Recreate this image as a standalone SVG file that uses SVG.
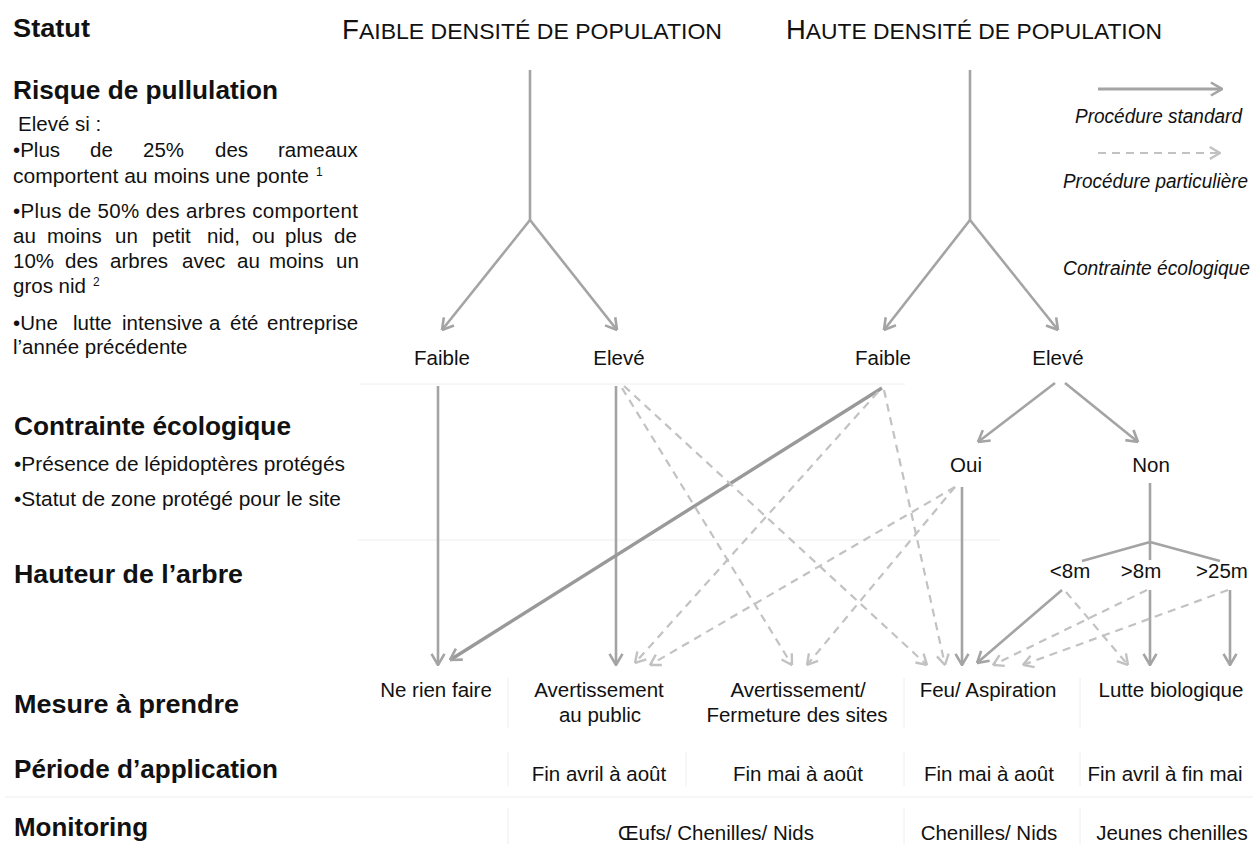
<svg xmlns="http://www.w3.org/2000/svg" width="1253" height="844" viewBox="0 0 1253 844">
<style>
  text { font-family: "Liberation Sans", Arial, sans-serif; fill: #111; }
  .h { font-weight: bold; font-size: 26px; }
  .b { font-size: 20.5px; }
  .c { font-size: 20.5px; text-anchor: middle; }
  .cap { font-size: 22.5px; }
  .it { font-style: italic; font-size: 19.5px; }
  .sup { font-size: 12px; }
  .sol { fill: none; stroke: #a4a4a4; stroke-width: 2.6; marker-end: url(#arr); }
  .solt { fill: none; stroke: #a4a4a4; stroke-width: 2.6; }
  .thk { fill: none; stroke: #999999; stroke-width: 3.4; marker-end: url(#arr); }
  .dsh { fill: none; stroke: #c2c2c2; stroke-width: 2.2; stroke-dasharray: 8 6; marker-end: url(#arrd); }
  .grid { stroke: #eeeeee; stroke-width: 1; fill: none; }
</style>
<defs>
  <marker id="arr" viewBox="0 0 10 12" refX="9.5" refY="6" markerWidth="13" markerHeight="16" markerUnits="userSpaceOnUse" orient="auto">
    <path d="M1,1 L9.5,6 L1,11" fill="none" stroke="#a4a4a4" stroke-width="2"/>
  </marker>
  <marker id="arrd" viewBox="0 0 10 12" refX="9.5" refY="6" markerWidth="12" markerHeight="15" markerUnits="userSpaceOnUse" orient="auto">
    <path d="M1,1 L9.5,6 L1,11" fill="none" stroke="#c2c2c2" stroke-width="2"/>
  </marker>
</defs>
<rect width="1253" height="844" fill="#ffffff"/>

<g id="grid">
  <path class="grid" d="M360,384 H905 M358,540 H1000 M5,797 H1253"/>
  <path class="grid" d="M508,678 V728 M508,752 V786 M508,808 V844 M904,678 V728 M904,752 V786 M904,808 V844 M1080,678 V728 M1080,752 V786 M1080,808 V844 M686,752 V786"/>
</g>

<g id="row-labels">
  <text class="h" x="13" y="37" textLength="77" lengthAdjust="spacingAndGlyphs">Statut</text>
  <text class="h" x="13" y="99" textLength="265" lengthAdjust="spacingAndGlyphs">Risque de pullulation</text>
  <text class="b" x="18" y="131">Elevé si :</text>
  <text class="b" y="157"><tspan x="13">•Plus</tspan><tspan x="90">de</tspan><tspan x="143">25%</tspan><tspan x="215">des</tspan><tspan x="278">rameaux</tspan></text>
  <text class="b" x="13" y="183" textLength="296" lengthAdjust="spacingAndGlyphs">comportent au moins une ponte</text>
  <text class="sup" x="316" y="176">1</text>
  <text class="b" x="13" y="218" textLength="345" lengthAdjust="spacing">•Plus de 50% des arbres comportent</text>
  <text class="b" y="243"><tspan x="13">au</tspan><tspan x="47">moins</tspan><tspan x="115">un</tspan><tspan x="152">petit</tspan><tspan x="207">nid,</tspan><tspan x="252">ou</tspan><tspan x="285">plus</tspan><tspan x="334">de</tspan></text>
  <text class="b" y="268"><tspan x="13">10%</tspan><tspan x="65">des</tspan><tspan x="110">arbres</tspan><tspan x="182">avec</tspan><tspan x="237">au</tspan><tspan x="269">moins</tspan><tspan x="336">un</tspan></text>
  <text class="b" x="13" y="293">gros nid</text>
  <text class="sup" x="93" y="286">2</text>
  <text class="b" y="330"><tspan x="13">•Une</tspan><tspan x="73">lutte</tspan><tspan x="122">intensive</tspan><tspan x="209">a</tspan><tspan x="230">été</tspan><tspan x="267">entreprise</tspan></text>
  <text class="b" x="13" y="354">l’année précédente</text>

  <text class="h" x="14" y="435" textLength="277" lengthAdjust="spacingAndGlyphs">Contrainte écologique</text>
  <text class="b" x="14" y="471" textLength="331" lengthAdjust="spacingAndGlyphs">•Présence de lépidoptères protégés</text>
  <text class="b" x="14" y="506" textLength="327" lengthAdjust="spacingAndGlyphs">•Statut de zone protégé pour le site</text>
  <text class="h" x="14" y="583" textLength="229" lengthAdjust="spacingAndGlyphs">Hauteur de l’arbre</text>
  <text class="h" x="14" y="713" textLength="225" lengthAdjust="spacingAndGlyphs">Mesure à prendre</text>
  <text class="h" x="14" y="778" textLength="264" lengthAdjust="spacingAndGlyphs">Période d’application</text>
  <text class="h" x="14" y="836" textLength="134" lengthAdjust="spacingAndGlyphs">Monitoring</text>
</g>

<g id="header-faible">
  <text x="342" y="39" textLength="380" lengthAdjust="spacingAndGlyphs"><tspan style="font-size:27px">F</tspan><tspan class="cap">AIBLE DENSITÉ DE POPULATION</tspan></text>
</g>
<g id="header-haute">
  <text x="786" y="39" textLength="376" lengthAdjust="spacingAndGlyphs"><tspan style="font-size:27px">H</tspan><tspan class="cap">AUTE DENSITÉ DE POPULATION</tspan></text>
</g>

<g id="legend">
  <path class="sol" d="M1098,89 H1222" style="stroke-width:3.2"/>
  <text class="it" x="1075" y="123" textLength="167" lengthAdjust="spacingAndGlyphs">Procédure standard</text>
  <path class="dsh" d="M1098,153 H1220"/>
  <text class="it" x="1063" y="188" textLength="185" lengthAdjust="spacingAndGlyphs">Procédure particulière</text>
  <text class="it" x="1063" y="275" textLength="187" lengthAdjust="spacingAndGlyphs">Contrainte écologique</text>
</g>

<g id="node-faible-1"><text class="c" x="442" y="365">Faible</text></g>
<g id="node-eleve-1"><text class="c" x="619" y="365">Elevé</text></g>
<g id="node-faible-2"><text class="c" x="883" y="365">Faible</text></g>
<g id="node-eleve-2"><text class="c" x="1058" y="365">Elevé</text></g>
<g id="node-oui"><text class="c" x="966" y="472">Oui</text></g>
<g id="node-non"><text class="c" x="1151" y="472">Non</text></g>
<g id="node-lt8"><text class="c" x="1070" y="578">&lt;8m</text></g>
<g id="node-gt8"><text class="c" x="1141" y="578">&gt;8m</text></g>
<g id="node-gt25"><text class="c" x="1222" y="578">&gt;25m</text></g>

<g id="node-ne-rien-faire"><text class="c" x="436" y="697">Ne rien faire</text></g>
<g id="node-avert-public">
  <text class="c" x="599" y="697">Avertissement</text>
  <text class="c" x="600" y="722">au public</text>
</g>
<g id="node-avert-fermeture">
  <text class="c" x="798" y="697">Avertissement/</text>
  <text class="c" x="797" y="722">Fermeture des sites</text>
</g>
<g id="node-feu"><text class="c" x="988" y="697">Feu/ Aspiration</text></g>
<g id="node-lutte"><text class="c" x="1171" y="697">Lutte biologique</text></g>

<g id="periods">
  <text class="c" x="599" y="781">Fin avril à août</text>
  <text class="c" x="798" y="781">Fin mai à août</text>
  <text class="c" x="989" y="781">Fin mai à août</text>
  <text class="c" x="1165" y="781">Fin avril à fin mai</text>
</g>
<g id="monitoring">
  <text class="c" x="716" y="840">Œufs/ Chenilles/ Nids</text>
  <text class="c" x="989" y="840">Chenilles/ Nids</text>
  <text class="c" x="1172" y="840">Jeunes chenilles</text>
</g>

<g id="connectors">
  <path class="solt" d="M530,70 V220"/>
  <path class="sol" d="M530,220 L442,330"/>
  <path class="sol" d="M530,220 L617,330"/>
  <path class="solt" d="M970,70 V220"/>
  <path class="sol" d="M970,220 L884,330"/>
  <path class="sol" d="M970,220 L1058,330"/>

  <path class="sol" d="M438,386 V665"/>
  <path class="sol" d="M616,386 V665"/>
  <path class="thk" d="M882,388 L450,660"/>
  <path class="sol" d="M1055,383 L978,442"/>
  <path class="sol" d="M1065,383 L1138,442"/>
  <path class="sol" d="M962,487 V665"/>
  <path class="solt" d="M1150,483 V542 L1082,561 M1150,542 L1220,561 M1150,542 V560"/>
  <path class="sol" d="M1062,590 L977,663"/>
  <path class="sol" d="M1150,590 V665"/>
  <path class="sol" d="M1230,590 V665"/>

  <path class="dsh" d="M622,388 L792,665"/>
  <path class="dsh" d="M624,386 L927,665"/>
  <path class="dsh" d="M878,392 L635,663"/>
  <path class="dsh" d="M884,390 L945,665"/>
  <path class="dsh" d="M955,487 L650,665"/>
  <path class="dsh" d="M955,487 L807,665"/>
  <path class="dsh" d="M1066,592 L1128,665"/>
  <path class="dsh" d="M1147,590 L993,665"/>
  <path class="dsh" d="M1228,590 L1023,665"/>
</g>
</svg>
